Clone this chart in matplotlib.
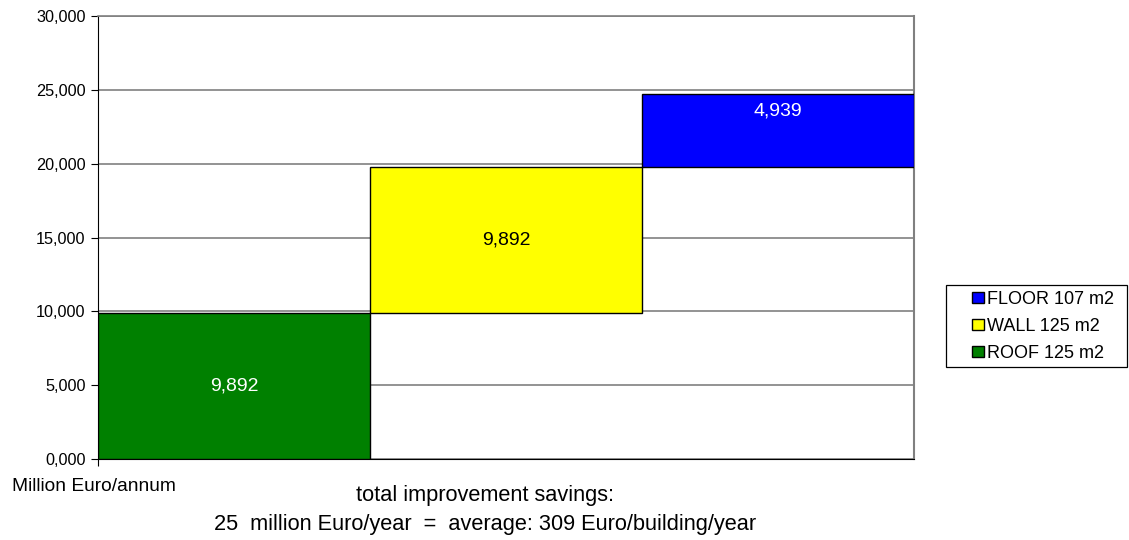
import matplotlib.pyplot as plt
import numpy as np
from matplotlib.patches import Patch, Rectangle
from matplotlib.ticker import FuncFormatter

plt.rcParams['font.family'] = ['Liberation Sans', 'DejaVu Sans']

# data
parts = ['ROOF 125 m2', 'WALL 125 m2', 'FLOOR 107 m2']
savings = [9892, 9892, 4939]
colors = ['#008000', '#FFFF00', '#0000FF']
label_colors = ['white', 'black', 'white']
label_pos = [0.5, 0.5, 0.77]   # where the value label sits inside each bar

bottoms = np.concatenate([[0], np.cumsum(savings)[:-1]])
x = np.arange(len(parts))

W, H = 1129, 540
fig = plt.figure(figsize=(W / 100, H / 100), dpi=100)
ax = fig.add_axes([98 / W, 1 - 459 / H, (914 - 98) / W, (459 - 16) / H])

ax.bar(x, savings, width=1.0, bottom=bottoms, color=colors,
       edgecolor='black', linewidth=1.0, zorder=3)

for xi, b, v, c, f in zip(x, bottoms, savings, label_colors, label_pos):
    ax.text(xi, b + v * f, f"{v:,}", ha='center', va='center',
            color=c, fontsize=14, zorder=4)

ax.set_xlim(-0.5, len(parts) - 0.5)
ax.set_ylim(0, 30000)
ax.set_yticks(np.arange(0, 30001, 5000))
ax.yaxis.set_major_formatter(FuncFormatter(lambda v, p: f"{v / 1000:.3f}".replace('.', ',')))
ax.set_xticks([-0.5])
ax.set_xticklabels([''])
ax.tick_params(axis='y', labelsize=11.7, length=5, width=0.8, pad=4)
ax.tick_params(axis='x', length=5, width=0.8)

ax.grid(axis='y', color='#808080', linewidth=1.2, zorder=0)
ax.spines['left'].set_color('black')
ax.spines['bottom'].set_color('black')
ax.spines['top'].set_color('#808080')
ax.spines['right'].set_color('#808080')
ax.spines['top'].set_linewidth(1.2)
ax.spines['right'].set_linewidth(1.5)

# legend: entries without frame, box drawn separately (wider left padding like the original)
handles = [Patch(facecolor=c, edgecolor='black', label=l) for l, c in zip(parts, colors)]
leg = fig.legend(handles=handles[::-1], loc='upper left', bbox_to_anchor=(972 / W, 1 - 291 / H),
                 fontsize=13, frameon=False,
                 handlelength=0.66, handleheight=0.62, handletextpad=0.18,
                 labelspacing=0.55, borderpad=0, borderaxespad=0)
fig.patches.append(Rectangle((946 / W, 1 - 367 / H), (1127 - 946) / W, (367 - 285) / H,
                             transform=fig.transFigure, fill=False, edgecolor='black', linewidth=0.9))

fig.text(12 / W, 1 - 491 / H, 'Million Euro/annum', fontsize=13.8, va='baseline', ha='left')
fig.text(485 / W, 1 - 501 / H, 'total improvement savings:', fontsize=15.7, ha='center', va='baseline')
fig.text(485 / W, 1 - 530 / H, '25  million Euro/year  =  average: 309 Euro/building/year',
         fontsize=15.7, ha='center', va='baseline')

fig.savefig('out.png', dpi=100)
